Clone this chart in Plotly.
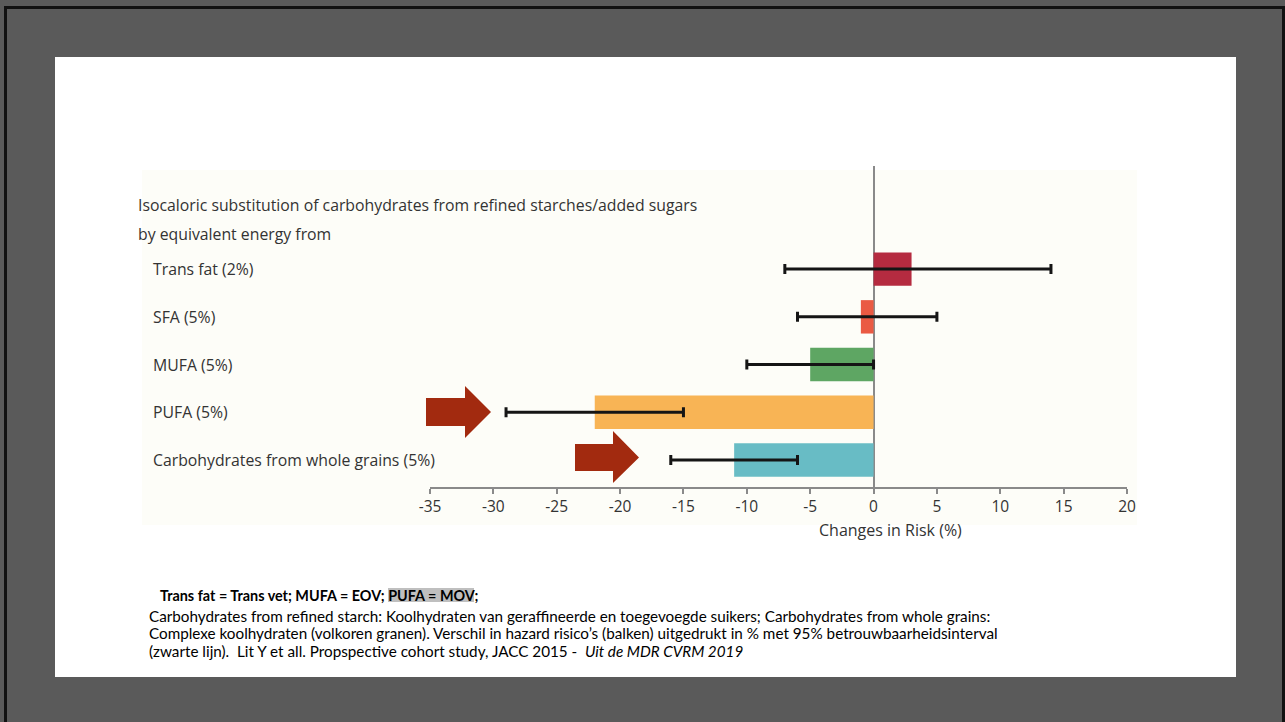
import plotly.graph_objects as go

# Substitution categories (top to bottom) and their results
categories = [
    "Trans fat (2%)",
    "SFA (5%)",
    "MUFA (5%)",
    "PUFA (5%)",
    "Carbohydrates from whole grains (5%)",
]
risk_change = [3, -1, -5, -22, -11]     # change in hazard risk (%)
ci_low = [-7, -6, -10, -29, -16]        # 95% CI lower bound
ci_high = [14, 5, 0, -15, -6]           # 95% CI upper bound
bar_colors = ["#b52b40", "#ea5a43", "#5ea663", "#f8b455", "#68bcc5"]
x_ticks = [-35, -30, -25, -20, -15, -10, -5, 0, 5, 10, 15, 20]

W, H = 1285, 722
# plot area in pixels
L, R, T, B = 430, 1127, 166, 487

def px(x):
    return (x - L) / (R - L)

def py(y):
    return (B - y) / (B - T)

n = len(categories)
ypos = list(range(n - 1, -1, -1))
err_plus = [h - v for h, v in zip(ci_high, risk_change)]
err_minus = [v - l for v, l in zip(risk_change, ci_low)]

fig = go.Figure()
fig.add_trace(go.Bar(
    x=risk_change, y=ypos, orientation="h", width=0.7,
    marker=dict(color=bar_colors, line=dict(width=0)),
    error_x=dict(type="data", symmetric=False, array=err_plus, arrayminus=err_minus,
                 color="#151515", thickness=3, width=5),
    hoverinfo="skip", showlegend=False,
))

shapes = []
# slide frame
shapes.append(dict(type="rect", xref="paper", yref="paper", x0=px(4), x1=px(W + 5),
                   y0=py(H + 5), y1=py(6), fillcolor="#111111", line=dict(width=0), layer="below"))
shapes.append(dict(type="rect", xref="paper", yref="paper", x0=px(7), x1=px(1282),
                   y0=py(H + 5), y1=py(9), fillcolor="#5a5a5a", line=dict(width=0), layer="below"))
# white content panel
shapes.append(dict(type="rect", xref="paper", yref="paper", x0=px(55), x1=px(1236),
                   y0=py(677), y1=py(57), fillcolor="#ffffff", line=dict(width=0), layer="below"))
# figure background
shapes.append(dict(type="rect", xref="paper", yref="paper", x0=px(142), x1=px(1137),
                   y0=py(525), y1=py(170), fillcolor="#fdfdf8", line=dict(width=0), layer="below"))
# highlight behind "PUFA = MOV"
shapes.append(dict(type="rect", xref="paper", yref="paper", x0=px(388), x1=px(474),
                   y0=py(602), y1=py(588), fillcolor="#bfbfbf", line=dict(width=0), layer="below"))

# arrows pointing at PUFA and whole grains confidence intervals
def arrow(x0, xs, xt, sy0, sy1, hy0, hy1):
    yc = (sy0 + sy1) / 2
    pts = [(x0, sy0), (xs, sy0), (xs, hy0), (xt, yc), (xs, hy1), (xs, sy1), (x0, sy1)]
    d = "M " + " L ".join(f"{px(a):.5f},{py(b):.5f}" for a, b in pts) + " Z"
    return dict(type="path", xref="paper", yref="paper", path=d,
                fillcolor="#a22a0f", line=dict(width=0), layer="above")

shapes.append(arrow(426, 465, 491, 398, 426, 386, 438))
shapes.append(arrow(575, 613, 639, 444, 471, 431, 483))

font_chart = "'Open Sans', Lato, sans-serif"
font_note = "Lato, 'Liberation Sans', sans-serif"
txt_col = "#333333"
fs = 15.8

annotations = []
annotations.append(dict(xref="paper", yref="paper", x=px(135.5), y=py(205), xanchor="left", yanchor="middle",
                        text="Isocaloric substitution of carbohydrates from refined starches/added sugars",
                        showarrow=False, font=dict(family=font_chart, size=fs, color=txt_col)))
annotations.append(dict(xref="paper", yref="paper", x=px(135.5), y=py(234), xanchor="left", yanchor="middle",
                        text="by equivalent energy from",
                        showarrow=False, font=dict(family=font_chart, size=fs, color=txt_col)))
for cat, yy in zip(categories, ypos):
    annotations.append(dict(xref="paper", yref="y", x=px(150.5), y=yy, xanchor="left", yanchor="middle",
                            text=cat, showarrow=False,
                            font=dict(family=font_chart, size=fs, color=txt_col)))
annotations.append(dict(xref="x", yref="paper", x=1.3, y=py(530), xanchor="center", yanchor="middle",
                        text="Changes in Risk (%)", showarrow=False,
                        font=dict(family=font_chart, size=16, color=txt_col)))

annotations.append(dict(xref="paper", yref="paper", x=px(158), y=py(595), xanchor="left", yanchor="middle",
                        text="<b>Trans fat = Trans vet; MUFA = EOV; PUFA = MOV;</b>", showarrow=False,
                        font=dict(family=font_note, size=14.4, color="#000000")))
notes = [
    (616, "Carbohydrates from refined starch: Koolhydraten van geraffineerde en toegevoegde suikers; Carbohydrates from whole grains:"),
    (633, "Complexe koolhydraten (volkoren granen). Verschil in hazard risico’s (balken) uitgedrukt in % met 95% betrouwbaarheidsinterval"),
    (651, "(zwarte lijn).  Lit Y et all. Propspective cohort study, JACC 2015 -  <i>Uit de MDR CVRM 2019</i>"),
]
for yy, txt in notes:
    annotations.append(dict(xref="paper", yref="paper", x=px(147), y=py(yy), xanchor="left", yanchor="middle",
                            text=txt, showarrow=False,
                            font=dict(family=font_note, size=15.25, color="#000000")))

fig.update_layout(
    width=W, height=H,
    margin=dict(l=L, r=W - R, t=T, b=H - B, pad=0),
    paper_bgcolor="#5a5a5a",
    plot_bgcolor="rgba(0,0,0,0)",
    shapes=shapes,
    annotations=annotations,
    bargap=0.3,
    xaxis=dict(range=[-35, 20], tickvals=x_ticks, ticktext=[str(t) for t in x_ticks],
               showgrid=False, showline=True, linecolor="#8a8a8a", linewidth=1.5,
               ticks="outside", ticklen=5, tickwidth=1.5, tickcolor="#8a8a8a",
               zeroline=True, zerolinecolor="#8a8a8a", zerolinewidth=1.5,
               tickfont=dict(family=font_chart, size=15.5, color=txt_col), fixedrange=True),
    yaxis=dict(range=[-0.565, 6.16], showgrid=False, showline=False, zeroline=False,
               showticklabels=False, ticks="", fixedrange=True),
)

fig.write_html("out.html")
